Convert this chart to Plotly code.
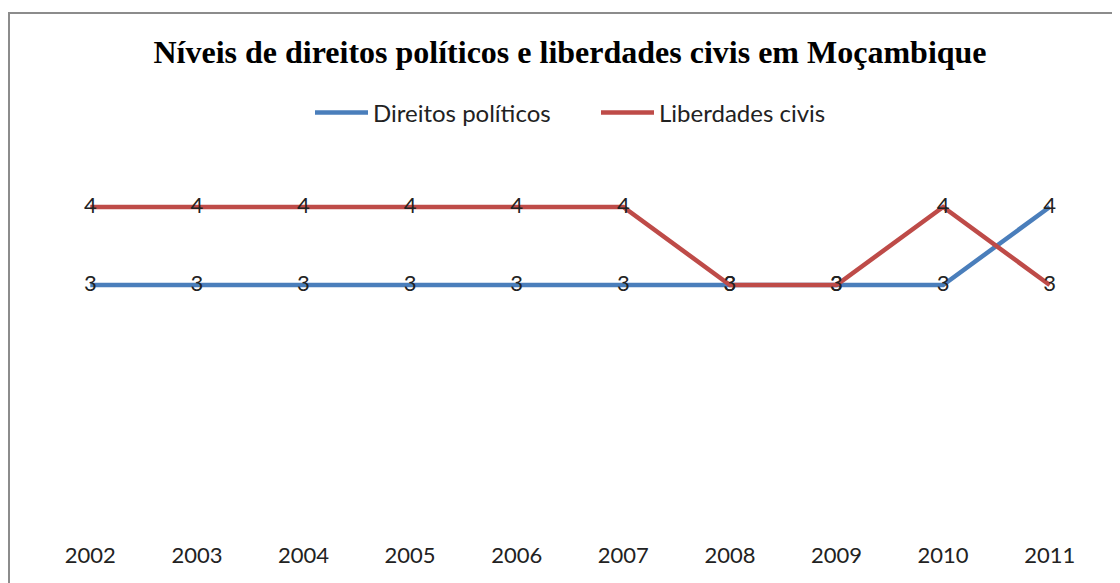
import plotly.graph_objects as go

years = ["2002", "2003", "2004", "2005", "2006", "2007", "2008", "2009", "2010", "2011"]
direitos_politicos = [3, 3, 3, 3, 3, 3, 3, 3, 3, 4]
liberdades_civis = [4, 4, 4, 4, 4, 4, 3, 3, 4, 3]

# page body keeps its default 8px margin, so the figure is 8px smaller each way
W, H = 1112, 575
ml, mr, mt, mb = 29, 17, 121, 64
pw, ph = W - ml - mr, H - mt - mb


def px_x(x):
    return (x - ml) / pw


def px_y(y):
    return (H - mb - y) / ph


label_font = dict(family="Lato", size=22, color="#222222")

fig = go.Figure()
fig.add_trace(go.Scatter(
    x=years, y=direitos_politicos, name="Direitos políticos",
    mode="lines+text", text=[str(v) for v in direitos_politicos],
    textposition="middle center", textfont=label_font,
    line=dict(color="#4A7EBB", width=4.5),
))
fig.add_trace(go.Scatter(
    x=years, y=liberdades_civis, name="Liberdades civis",
    mode="lines+text", text=[str(v) for v in liberdades_civis],
    textposition="middle center", textfont=label_font,
    line=dict(color="#BE4B48", width=4.5),
))

# outer frame (only top and left edges are visible in the source)
frame = dict(color="#8c8c8c", width=2)
fig.add_shape(type="line", xref="paper", yref="paper",
              x0=px_x(0), x1=px_x(W + 5), y0=px_y(5), y1=px_y(5), line=frame)
fig.add_shape(type="line", xref="paper", yref="paper",
              x0=px_x(1), x1=px_x(1), y0=px_y(5), y1=px_y(H + 5), line=frame)

fig.update_layout(
    width=W, height=H,
    margin=dict(l=ml, r=mr, t=mt, b=mb, autoexpand=False),
    paper_bgcolor="white", plot_bgcolor="white",
    title=dict(
        text="<b>Níveis de direitos políticos e liberdades civis em Moçambique</b>",
        font=dict(family="Liberation Serif", size=32, color="black"),
        x=562 / W, xanchor="center", xref="container",
        y=1 - 44 / H, yanchor="middle", yref="container",
    ),
    legend=dict(
        orientation="h", x=302 / W, xanchor="left", xref="container",
        y=1 - 105 / H, yanchor="middle", yref="container",
        font=dict(family="Lato", size=24, color="#222222"),
        itemwidth=53, entrywidth=218, entrywidthmode="pixels",
        traceorder="normal",
    ),
    xaxis=dict(
        type="category", range=[-0.5, 9.5], showgrid=False, zeroline=False,
        showline=False, ticks="", ticklabelstandoff=21, automargin=False,
        tickfont=label_font,
    ),
    yaxis=dict(
        range=[0, 5], showgrid=False, zeroline=False, showline=False,
        showticklabels=False, ticks="", automargin=False,
    ),
    showlegend=True,
)

fig.write_html("out.html")
